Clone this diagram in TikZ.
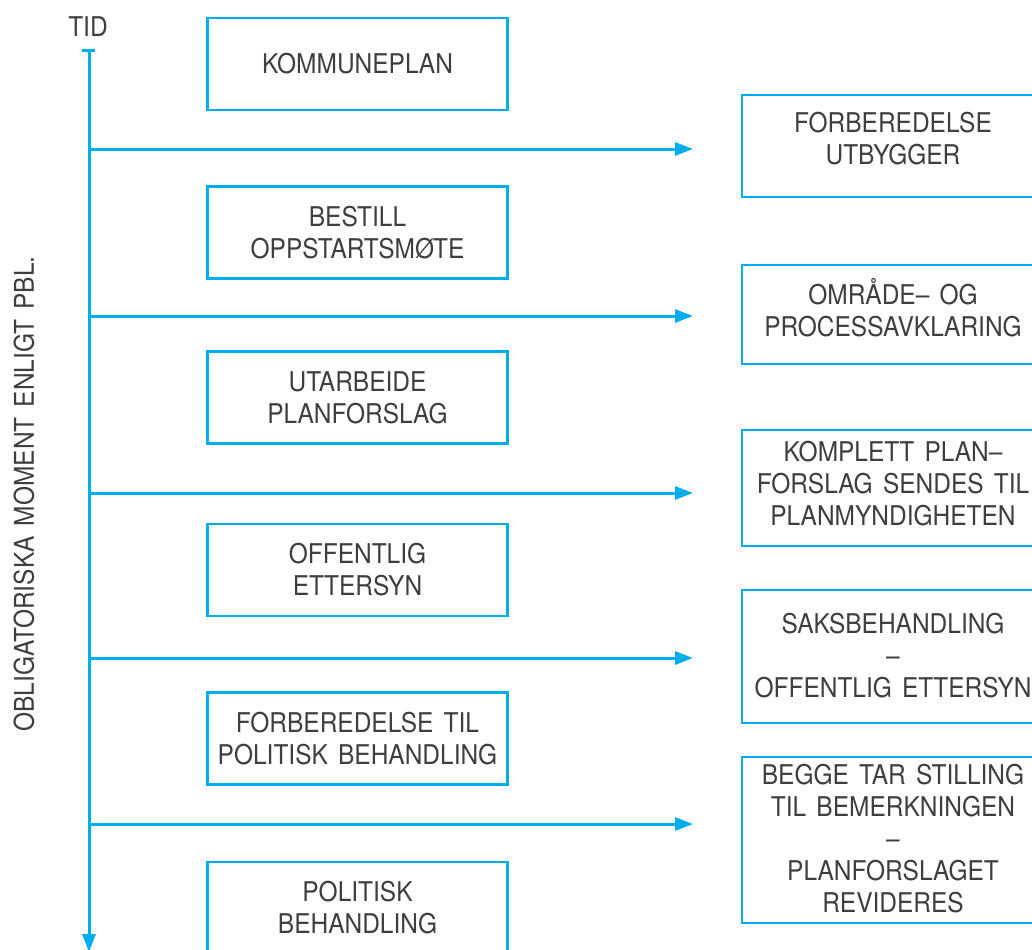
\documentclass[tikz,border=0pt]{standalone}
\usepackage{fontspec}
\setmainfont{TeX Gyre Heros}[FakeStretch=0.9, WordSpace=1.5]
\usetikzlibrary{arrows.meta}
\definecolor{flow}{RGB}{0,174,239}
\definecolor{ink}{RGB}{62,62,62}
\tikzset{
  flowline/.style={draw=flow, line width=1.5pt},
  flowarrow/.style={flowline, -{Triangle[length=9pt,width=6.5pt]}},
  leftbox/.style={draw=flow, line width=1.4pt, minimum width=150pt, minimum height=46pt, inner sep=0pt},
  rightbox/.style={draw=flow, line width=1.4pt, minimum width=151pt, inner sep=0pt},
  caption/.style={text=ink, font=\fontsize{13.6}{16}\selectfont, align=center, inner sep=0pt},
}
\begin{document}
\begin{tikzpicture}[x=0.5pt,y=-0.5pt]
\useasboundingbox (0,0) rectangle (1032,949);
\clip (0,0) rectangle (1032,949);

% time axis
\node[caption] (tid) at (88,27) {TID};
\coordinate (axistop) at (89,50);
\coordinate (axisbottom) at (89,952);
\coordinate (tickL) at (82,50);
\coordinate (tickR) at (95,50);
\draw[flowline] (tickL) -- (tickR);
\draw[flowarrow] (axistop) -- (axisbottom);

\node[caption, rotate=90] (side) at (24,494) {OBLIGATORISKA MOMENT ENLIGT PBL.};

% municipality steps
\node[leftbox] (l1) at (357.5,64) {};
\node[caption] (l1t) at (l1.center) {KOMMUNEPLAN};
\node[leftbox] (l2) at (357.5,232.5) {};
\node[caption] (l2t) at (l2.center) {BESTILL\\OPPSTARTSMØTE};
\node[leftbox] (l3) at (357.5,397.5) {};
\node[caption] (l3t) at (l3.center) {UTARBEIDE\\PLANFORSLAG};
\node[leftbox] (l4) at (357.5,570) {};
\node[caption] (l4t) at (l4.center) {OFFENTLIG\\ETTERSYN};
\node[leftbox] (l5) at (357.5,738.5) {};
\node[caption] (l5t) at (l5.center) {FORBEREDELSE TIL\\POLITISK BEHANDLING};
\node[leftbox] (l6) at (357.5,908) {};
\node[caption] (l6t) at (l6.center) {POLITISK\\BEHANDLING};

% developer steps
\node[rightbox, minimum height=51pt] (r1) at (893,146) {};
\node[caption] (r1t) at (893,139) {FORBEREDELSE\\UTBYGGER};
\node[rightbox, minimum height=49.5pt] (r2) at (893,314.5) {};
\node[caption] (r2t) at (893,307.5) {OMRÅDE– OG\\PROCESSAVKLARING};
\node[rightbox, minimum height=58pt] (r3) at (893,488) {};
\node[caption] (r3t) at (893,484) {KOMPLETT PLAN–\\FORSLAG SENDES TIL\\PLANMYNDIGHETEN};
\node[rightbox, minimum height=66.5pt] (r4) at (893,656.5) {};
\node[caption] (r4t) at (893,656) {SAKSBEHANDLING\\–\\OFFENTLIG ETTERSYN};
\node[rightbox, minimum height=83pt] (r5) at (893,840) {};
\node[caption] (r5t) at (893,838.5) {BEGGE TAR STILLING\\TIL BEMERKNINGEN\\–\\PLANFORSLAGET\\REVIDERES};

% hand-over arrows
\foreach \i/\y in {1/149,2/316,3/493,4/658,5/824}{
  \coordinate (s\i) at (89,\y);
  \coordinate (e\i) at (693,\y);
  \draw[flowarrow] (s\i) -- (e\i);
}
\end{tikzpicture}
\end{document}
